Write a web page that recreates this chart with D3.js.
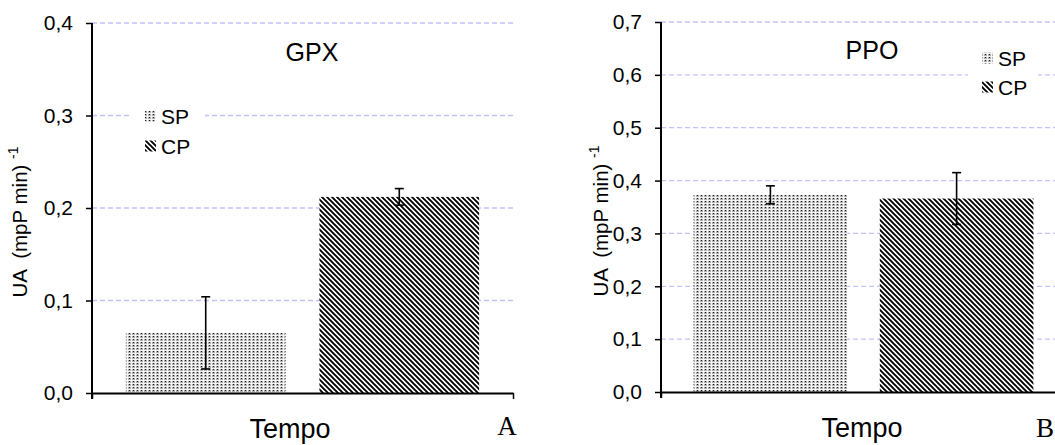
<!DOCTYPE html>
<html>
<head>
<meta charset="utf-8">
<script src="https://cdn.jsdelivr.net/npm/d3@7"></script>
<style>
  html, body { margin: 0; padding: 0; background: #fff; }
  svg { display: block; }
  text { font-family: "Liberation Sans", Arial, sans-serif; fill: #000; }
</style>
</head>
<body>
<svg id="chart" width="1055" height="445"></svg>
<script>
// Series (treatments) and measured activities
const series = ["SP", "CP"];
const gpxValues = [0.065, 0.212];
const gpxErrors = [0.039, 0.009];
const ppoValues = [0.373, 0.366];
const ppoErrors = [0.017, 0.049];
const gpxTicks = [0.0, 0.1, 0.2, 0.3, 0.4];
const ppoTicks = [0.0, 0.1, 0.2, 0.3, 0.4, 0.5, 0.6, 0.7];
const xTitle = "Tempo";
const yTitle = "UA  (mpP min)";
const yTitleSup = "-1";

const ptBR = d3.formatLocale({ decimal: ",", thousands: ".", grouping: [3], currency: ["R$", ""] });
const fmt = ptBR.format(".1f");

const svg = d3.select("#chart");
const defs = svg.append("defs");

// fine dotted fill for SP
const dots = defs.append("pattern")
  .attr("id", "dots").attr("patternUnits", "userSpaceOnUse")
  .attr("width", 4).attr("height", 3);
dots.append("rect").attr("width", 4).attr("height", 3).attr("fill", "#f4f4f4");
dots.append("rect").attr("width", 3).attr("height", 2).attr("fill", "#b0b0b0");
dots.append("rect").attr("x", 1).attr("y", 0).attr("width", 1).attr("height", 1).attr("fill", "#1a1a1a");

// diagonal black/white stripes for CP
const stripes = defs.append("pattern")
  .attr("id", "stripes").attr("patternUnits", "userSpaceOnUse")
  .attr("width", 5).attr("height", 5);
stripes.append("rect").attr("width", 5).attr("height", 5).attr("fill", "#ffffff");
stripes.append("path")
  .attr("d", "M-1,-1 L6,6 M-1,4 L1,6 M4,-1 L6,1")
  .attr("stroke", "#000").attr("stroke-width", 1.9);

const fills = { SP: "url(#dots)", CP: "url(#stripes)" };

function panel(opts) {
  const g = svg.append("g");
  const y = d3.scaleLinear().domain([0, opts.yMax]).range([opts.y0, opts.y1]);
  const x = d3.scaleBand().domain(series).range([opts.x0, opts.x1]).padding(0.175);

  // dashed gridlines
  g.append("g").selectAll("line")
    .data(opts.ticks.filter(t => t > 0))
    .join("line")
    .attr("x1", opts.x0).attr("x2", opts.gridEnd)
    .attr("y1", d => y(d)).attr("y2", d => y(d))
    .attr("stroke", "#c2c2fa").attr("stroke-width", 1.3)
    .attr("stroke-dasharray", "5,3");

  // legend (white box hides the gridline behind it)
  const lg = g.append("g");
  lg.append("rect")
    .attr("x", opts.legend.boxX).attr("y", opts.legend.y - 22)
    .attr("width", opts.legend.boxW).attr("height", opts.legend.dy + 44)
    .attr("fill", "#fff");
  series.forEach((s, i) => {
    const cy = opts.legend.y + i * opts.legend.dy;
    lg.append("rect")
      .attr("x", opts.legend.x).attr("y", cy - 5.5)
      .attr("width", 11).attr("height", 11)
      .attr("fill", fills[s]);
    lg.append("text")
      .attr("x", opts.legend.x + 16).attr("y", cy + 7.5)
      .attr("font-size", 21).text(s);
  });

  // bars
  g.append("g").selectAll("rect")
    .data(series.map((s, i) => ({ s, v: opts.values[i], e: opts.errors[i] })))
    .join("rect")
    .attr("x", d => x(d.s)).attr("width", x.bandwidth())
    .attr("y", d => y(d.v)).attr("height", d => y(0) - y(d.v))
    .attr("fill", d => fills[d.s]);

  // error bars
  const eb = g.append("g").attr("stroke", "#000").attr("stroke-width", 1.6);
  series.forEach((s, i) => {
    const cx = x(s) + x.bandwidth() / 2;
    const lo = y(opts.values[i] - opts.errors[i]);
    const hi = y(opts.values[i] + opts.errors[i]);
    eb.append("line").attr("x1", cx).attr("x2", cx).attr("y1", lo).attr("y2", hi);
    eb.append("line").attr("x1", cx - 4.5).attr("x2", cx + 4.5).attr("y1", lo).attr("y2", lo);
    eb.append("line").attr("x1", cx - 4.5).attr("x2", cx + 4.5).attr("y1", hi).attr("y2", hi);
  });

  // y axis
  const ya = g.append("g")
    .attr("transform", `translate(${opts.x0},0)`)
    .call(d3.axisLeft(y).tickValues(opts.ticks).tickFormat(fmt).tickSize(6).tickPadding(13));
  ya.select(".domain").attr("stroke", "#000").attr("stroke-width", 2).attr("d", `M0,${opts.y0 + 6}V${opts.y1}`);
  ya.selectAll(".tick line").attr("stroke", "#000").attr("stroke-width", 1.5);
  ya.selectAll(".tick text").attr("font-size", 21).attr("font-family", "Liberation Sans, Arial, sans-serif");

  // x axis: one category, tick marks at its boundaries
  const xEdge = d3.scaleLinear().domain([0, 1]).range([opts.x0, opts.xAxisEnd]);
  const xa = g.append("g")
    .attr("transform", `translate(0,${opts.y0})`)
    .call(d3.axisBottom(xEdge).tickValues([0, 1]).tickFormat("").tickSize(6).tickSizeOuter(0));
  xa.select(".domain").attr("stroke", "#000").attr("stroke-width", 2);
  xa.selectAll(".tick line").attr("stroke", "#000").attr("stroke-width", 1.5);

  // titles
  g.append("text").attr("x", opts.titleX).attr("y", opts.titleY)
    .attr("text-anchor", "middle").attr("font-size", 25).text(opts.title);
  g.append("text").attr("x", opts.xTitleX).attr("y", opts.xTitleY)
    .attr("text-anchor", "middle").attr("font-size", 27).text(xTitle);
  const yt = g.append("text")
    .attr("transform", `translate(${opts.yTitleX},${opts.yTitleY}) rotate(-90)`)
    .attr("text-anchor", "middle")
    .attr("xml:space", "preserve")
    .style("font-size", "20.5px");
  yt.append("tspan").text(yTitle + " ");
  yt.append("tspan").style("font-size", "14px").attr("dy", -9).text(yTitleSup);

  g.append("text").attr("x", opts.tagX).attr("y", opts.tagY)
    .attr("text-anchor", "middle").attr("font-size", 27)
    .style("font-family", "'Liberation Serif', 'Times New Roman', serif")
    .text(opts.tag);
}

panel({
  title: "GPX", tag: "A",
  values: gpxValues, errors: gpxErrors, ticks: gpxTicks, yMax: 0.4,
  x0: 92, x1: 513, xAxisEnd: 513, gridEnd: 513, y0: 393, y1: 23,
  legend: { x: 145, y: 116, dy: 30, boxX: 132, boxW: 73 },
  titleX: 312, titleY: 61,
  xTitleX: 290, xTitleY: 438,
  yTitleX: 27, yTitleY: 222,
  tagX: 507, tagY: 435
});

panel({
  title: "PPO", tag: "B",
  values: ppoValues, errors: ppoErrors, ticks: ppoTicks, yMax: 0.7,
  x0: 661, x1: 1066, xAxisEnd: 1066, gridEnd: 1055, y0: 392, y1: 22,
  legend: { x: 982, y: 58, dy: 29, boxX: 968, boxW: 70 },
  titleX: 872, titleY: 59,
  xTitleX: 862, xTitleY: 437,
  yTitleX: 608, yTitleY: 221,
  tagX: 1045, tagY: 437
});
</script>
</body>
</html>
